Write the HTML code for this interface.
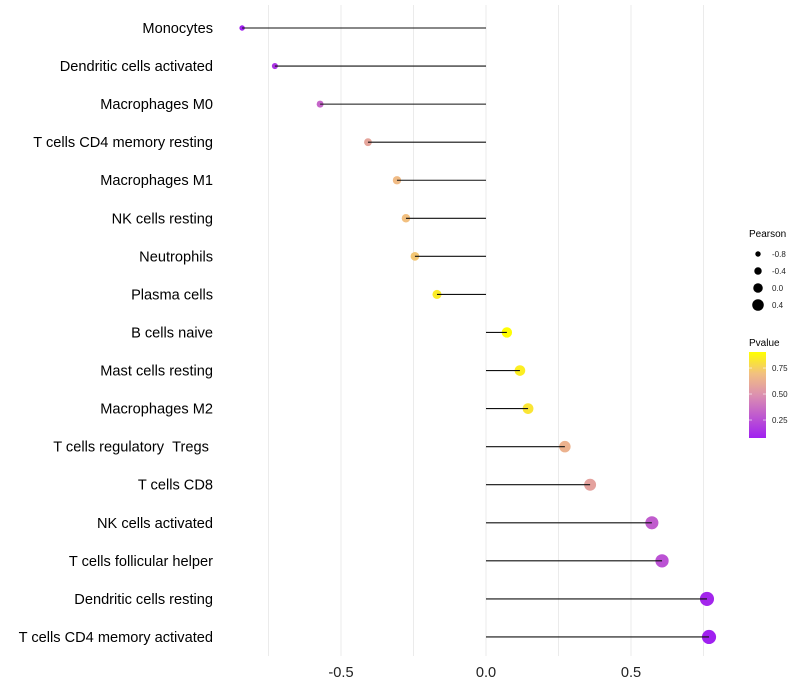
<!DOCTYPE html>
<html><head><meta charset="utf-8"><style>
body{margin:0;background:#fff}
svg{display:block;font-family:"Liberation Sans",sans-serif}
</style></head><body>
<svg id="chart" width="800" height="700">
<defs><linearGradient id="pg" x1="0" y1="1" x2="0" y2="0">
<stop offset="0" stop-color="#A020F0"/><stop offset="0.5" stop-color="#DC90B0"/><stop offset="0.75" stop-color="#F2C080"/><stop offset="1" stop-color="#FFFF00"/></linearGradient></defs>
<g id="grid"></g>
<g id="marks"></g>
<g id="labels"></g>
<g id="xt"></g>
<g>
<text x="749" y="237" font-size="10" fill="#000">Pearson</text>
<g id="sizeleg"></g>
</g>
<g>
<text x="749" y="346" font-size="10" fill="#000">Pvalue</text>
<rect x="749" y="352" width="17" height="86" fill="url(#pg)"/>
<g id="colleg"></g>
</g>
</svg>
<script>
const categories=["Monocytes","Dendritic cells activated","Macrophages M0","T cells CD4 memory resting","Macrophages M1","NK cells resting","Neutrophils","Plasma cells","B cells naive","Mast cells resting","Macrophages M2","T cells regulatory\u00a0\u00a0Tregs\u00a0","T cells CD8","NK cells activated","T cells follicular helper","Dendritic cells resting","T cells CD4 memory activated"];
const pearson=[-0.841,-0.728,-0.572,-0.407,-0.307,-0.276,-0.245,-0.169,0.072,0.117,0.145,0.272,0.359,0.572,0.607,0.762,0.769];
const pvalue=[0.08,0.15,0.33,0.58,0.68,0.7,0.72,0.84,0.9,0.85,0.82,0.64,0.57,0.3,0.26,0.1,0.08];
const xTicks=[-0.5,0,0.5];
const xTickLabels=["-0.5","0.0","0.5"];
const gridVals=[-0.75,-0.5,-0.25,0,0.25,0.5,0.75];
const sizeLegVals=[-0.8,-0.4,0.0,0.4];
const sizeLegLabels=["-0.8","-0.4","0.0","0.4"];
const colLegVals=[0.75,0.5,0.25];
const colLegLabels=["0.75","0.50","0.25"];
const NS="http://www.w3.org/2000/svg";
const X=v=>486+v*290;
const Y=i=>28+i*38.06;
const R=v=>5+2.7*v;
const PY=p=>352+(0.904-p)*104;
function mk(t,a,p){const e=document.createElementNS(NS,t);for(const k in a)e.setAttribute(k,a[k]);p.appendChild(e);return e;}
function lerp(a,b,t){return a.map((x,i)=>Math.round(x+(b[i]-x)*t));}
function col(p){const stops=[[0.077,[160,32,240]],[0.49,[220,144,176]],[0.7,[242,192,128]],[0.904,[255,255,0]]];
 if(p<=stops[0][0])return `rgb(${stops[0][1]})`;
 for(let i=1;i<stops.length;i++){if(p<=stops[i][0]){const t=(p-stops[i-1][0])/(stops[i][0]-stops[i-1][0]);return `rgb(${lerp(stops[i-1][1],stops[i][1],t)})`;}}
 return "rgb(255,255,0)";}
const grid=document.getElementById('grid');
gridVals.forEach(v=>{const l=mk('line',{x1:X(v),x2:X(v),y1:5,y2:656,stroke:'#ebebeb','stroke-width':1},grid);

});
const marks=document.getElementById('marks'),labels=document.getElementById('labels');
categories.forEach((c,i)=>{
 const g=mk('g',{},marks);
 
 
 const d=mk('circle',{cx:X(pearson[i]),cy:Y(i),r:R(pearson[i]),fill:col(pvalue[i])},g);
 
 
 const ln=mk('line',{x1:X(0),x2:X(pearson[i]),y1:Y(i),y2:Y(i),stroke:'#111','stroke-width':1.1},g);
 
 
 const t=mk('text',{x:213,y:Y(i)+5,'text-anchor':'end','font-size':14.6,fill:'#000'},labels);
 t.textContent=c;
 
 
});
const xt=document.getElementById('xt');
xTicks.forEach((v,i)=>{const t=mk('text',{x:X(v),y:677,'text-anchor':'middle','font-size':14.6,fill:'#222'},xt);
t.textContent=xTickLabels[i];

});
const sl=document.getElementById('sizeleg');
sizeLegVals.forEach((v,i)=>{const y=254+i*17;
 const c=mk('circle',{cx:758,cy:y,r:R(v)*0.95,fill:'#000'},sl);
 
 
 const t=mk('text',{x:772,y:y+3,'font-size':8,fill:'#222'},sl);t.textContent=sizeLegLabels[i];
 
 });
const cl=document.getElementById('colleg');
colLegVals.forEach((v,i)=>{const y=PY(v);
 mk('line',{x1:749,x2:752,y1:y,y2:y,stroke:'#fff','stroke-width':0.6},cl);
 mk('line',{x1:763,x2:766,y1:y,y2:y,stroke:'#fff','stroke-width':0.6},cl);
 const t=mk('text',{x:772,y:y+3,'font-size':8,fill:'#222'},cl);t.textContent=colLegLabels[i];
 
 });
</script>
</body></html>
